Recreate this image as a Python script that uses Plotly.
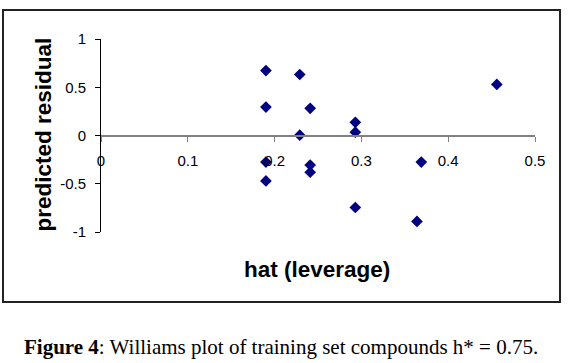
import plotly.graph_objects as go

# Data
hat_leverage = [0.190, 0.190, 0.190, 0.190, 0.229, 0.229, 0.241, 0.241, 0.241,
                0.293, 0.293, 0.293, 0.364, 0.369, 0.456]
predicted_residual = [0.673, 0.295, -0.275, -0.471, 0.632, 0.003, 0.282, -0.306, -0.381,
                      0.137, 0.034, -0.746, -0.890, -0.275, 0.529]

x_ticks = [0, 0.1, 0.2, 0.3, 0.4, 0.5]
x_tick_labels = ["0", "0.1", "0.2", "0.3", "0.4", "0.5"]
y_ticks = [-1, -0.5, 0, 0.5, 1]
y_tick_labels = ["-1", "-0.5", "0", "0.5", "1"]

W, H = 573, 363
L, R, T, B = 101, 38, 39, 131
pw, ph = W - L - R, H - T - B

def px(x):
    return (x - L) / pw

def py(y):
    return (H - B - y) / ph

fig = go.Figure()
fig.add_trace(go.Scatter(
    x=hat_leverage, y=predicted_residual, mode="markers",
    marker=dict(symbol="diamond", size=9, color="#000080", line=dict(width=0)),
    showlegend=False, cliponaxis=False, hoverinfo="skip",
))

fig.update_layout(
    width=W, height=H,
    margin=dict(l=L, r=R, t=T, b=B, pad=0),
    paper_bgcolor="white", plot_bgcolor="white",
    font=dict(family="Liberation Sans, Arial, sans-serif", size=15, color="black"),
    xaxis=dict(
        range=[0, 0.5], tickvals=x_ticks, ticktext=x_tick_labels,
        anchor="free", position=0.5,
        showgrid=False, zeroline=False,
        showline=True, linecolor="#808080", linewidth=2,
        ticks="outside", ticklen=5, tickcolor="#808080", tickwidth=1,
        ticklabelstandoff=6,
        tickfont=dict(size=15, color="black"),
    ),
    yaxis=dict(
        range=[-1, 1], tickvals=y_ticks, ticktext=y_tick_labels,
        showgrid=False, zeroline=False,
        showline=True, linecolor="black", linewidth=1,
        ticks="outside", ticklen=5, tickcolor="black", tickwidth=1,
        ticklabelstandoff=6,
        tickfont=dict(size=15, color="black"),
    ),
    shapes=[dict(
        type="rect", xref="paper", yref="paper",
        x0=px(3), x1=px(560), y0=py(302), y1=py(10),
        line=dict(color="#222222", width=2), fillcolor="rgba(0,0,0,0)", layer="below",
    )],
    annotations=[
        dict(text="<b>predicted residual</b>", xref="paper", yref="paper",
             x=px(43), y=py(134.5), textangle=-90, showarrow=False,
             xanchor="center", yanchor="middle",
             font=dict(family="Liberation Sans, Arial, sans-serif", size=22.5, color="black")),
        dict(text="<b>hat (leverage)</b>", xref="paper", yref="paper",
             x=px(317), y=py(269), showarrow=False,
             xanchor="center", yanchor="middle",
             font=dict(family="Liberation Sans, Arial, sans-serif", size=22.5, color="black")),
        dict(text="<b>Figure 4</b>: Williams plot of training set compounds h* = 0.75.",
             xref="paper", yref="paper", x=px(281), y=py(347), showarrow=False,
             xanchor="center", yanchor="middle",
             font=dict(family="Liberation Serif, Times New Roman, serif", size=21, color="black")),
    ],
)

fig.write_html(
    "out.html",
    config={"displayModeBar": False, "staticPlot": True},
    post_script="document.body.style.margin='0';document.body.style.padding='0';",
)
